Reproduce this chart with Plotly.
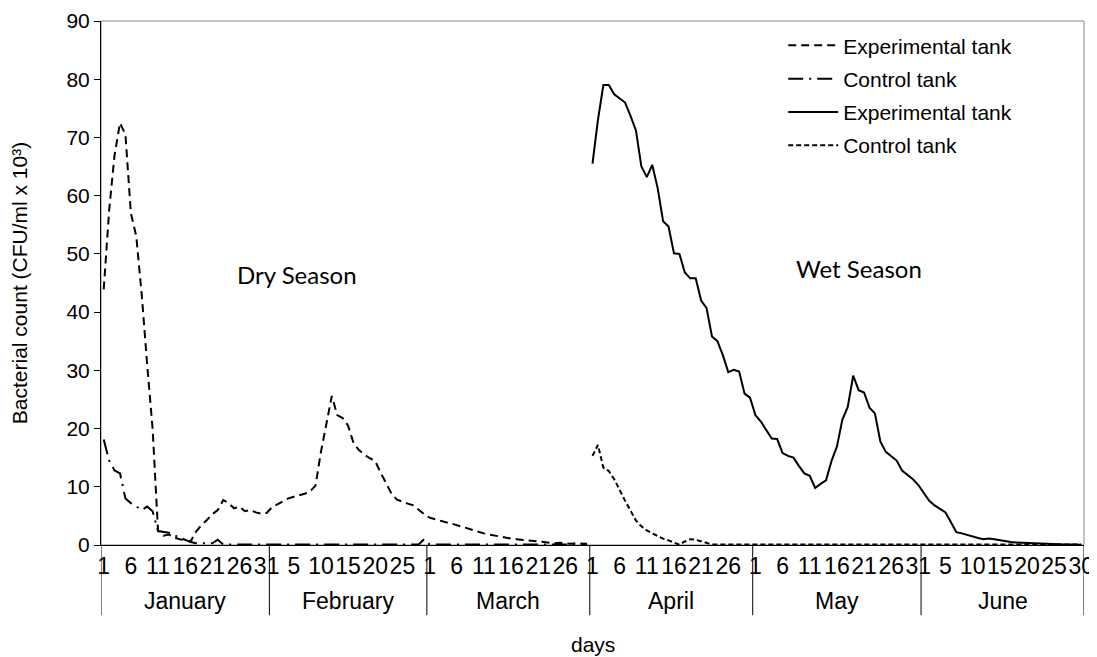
import plotly.graph_objects as go

# ---- categories ----
months = ["January", "February", "March", "April", "May", "June"]
month_days = [31, 29, 30, 30, 31, 30]
# every 5th category gets a label (same as the source chart)
tick_labels = ["1", "6", "11", "16", "21", "26", "31",
               "5", "10", "15", "20", "25",
               "1", "6", "11", "16", "21", "26",
               "1", "6", "11", "16", "21", "26",
               "1", "6", "11", "16", "21", "26", "31",
               "5", "10", "15", "20", "25", "30"]

# ---- Dry season (Jan - Mar) ----
dry_exp = [43.9, 57.5, 67.0, 72.5, 70.5, 57.0, 53.0, 43.0, 31.0, 20.0, 2.5, 1.6, 1.8, 1.3, 1.0, 0.8,
           0.6, 2.3, 3.4, 4.3, 5.3, 6.0, 7.7, 7.2, 6.3, 6.6, 5.8, 6.0, 5.6, 5.4, 5.5,
           6.5, 7.0, 7.6, 8.0, 8.3, 8.5, 8.8, 9.2, 10.2, 16.0, 21.0, 25.6, 22.3, 21.8, 20.5,
           17.5, 16.3, 15.5, 14.9, 14.4, 12.4, 10.6, 8.8, 7.8, 7.4, 7.1, 6.8, 6.0, 5.3,
           4.7, 4.4, 4.1, 3.9, 3.7, 3.4, 3.2, 2.9, 2.5, 2.2, 2.0, 1.8, 1.6, 1.4, 1.3,
           1.1, 1.0, 0.9, 0.7, 0.6, 0.5, 0.4, 0.4, 0.3, 0.4, 0.3, 0.2, 0.3, 0.2, 0.2]
dry_ctrl = [18.1, 14.5, 12.8, 12.3, 8.0, 7.2, 6.6, 6.0, 6.6, 5.8, 2.4, 2.3, 2.1, 1.7, 1.3, 0.9,
            0.5, 0.3, 0.3, 0.2, 0.3, 0.9, 0.1, 0.1, 0.1, 0.1, 0.1, 0.1, 0.1, 0.1, 0.1,
            0.1, 0.1, 0.1, 0.1, 0.1, 0.1, 0.1, 0.1, 0.1, 0.1, 0.1, 0.1, 0.1, 0.1, 0.1,
            0.1, 0.1, 0.1, 0.1, 0.1, 0.1, 0.1, 0.1, 0.1, 0.1, 0.1, 0.1, 0.1, 1.0,
            0.1, 0.1, 0.1, 0.1, 0.1, 0.1, 0.1, 0.1, 0.1, 0.1, 0.1, 0.1, 0.1, 0.1, 0.1,
            0.1, 0.1, 0.1, 0.1, 0.1, 0.1, 0.1, 0.1, 0.1, 0.1, 0.1, 0.1, 0.1, 0.1, 0.1]

# ---- Wet season (Apr - Jun) ----
wet_exp = [65.5, 73.0, 79.0, 79.0, 77.4, 76.7, 76.0, 73.7, 71.2, 65.0, 63.2, 65.3, 61.3, 55.6, 54.7,
           50.1, 50.0, 46.8, 45.8, 45.8, 42.0, 40.7, 35.8, 35.0, 32.6, 29.7, 30.1, 29.8, 26.0, 25.3,
           22.3, 21.2, 19.8, 18.3, 18.2, 15.8, 15.3, 15.0, 13.6, 12.3, 11.9, 9.8, 10.5, 11.1, 14.4,
           16.9, 21.5, 23.7, 29.1, 26.6, 26.2, 23.6, 22.6, 17.8, 16.0, 15.3, 14.5, 12.8, 12.0, 11.3, 10.3,
           9.0, 7.6, 6.8, 6.2, 5.6, 3.9, 2.2, 2.0, 1.7, 1.5, 1.2, 1.0, 1.1, 1.0, 0.8,
           0.6, 0.5, 0.45, 0.4, 0.35, 0.3, 0.3, 0.25, 0.2, 0.2, 0.15, 0.1, 0.1, 0.1, 0.05]
wet_ctrl = [15.3, 17.2, 13.3, 12.7, 11.3, 9.3, 7.6, 5.9, 4.2, 3.2, 2.5, 2.0, 1.5, 1.1, 0.8,
            0.4, 0.05, 0.6, 1.0, 0.9, 0.6, 0.3, 0.1, 0.1, 0.1, 0.1, 0.1, 0.1, 0.1, 0.1,
            0.1, 0.1, 0.1, 0.1, 0.1, 0.1, 0.1, 0.1, 0.1, 0.1, 0.1, 0.1, 0.1, 0.1, 0.1, 0.1,
            0.1, 0.1, 0.1, 0.1, 0.1, 0.1, 0.1, 0.1, 0.1, 0.1, 0.1, 0.1, 0.1, 0.1, 0.1,
            0.1, 0.1, 0.1, 0.1, 0.1, 0.1, 0.1, 0.1, 0.1, 0.1, 0.1, 0.1, 0.1, 0.1, 0.1,
            0.1, 0.1, 0.1, 0.1, 0.1, 0.1, 0.1, 0.1, 0.1, 0.1, 0.1, 0.1, 0.1, 0.1, 0.1]

# category positions (one per day)
n_dry = sum(month_days[:3])
n_all = sum(month_days)
x_dry = list(range(1, n_dry + 1))
x_wet = list(range(n_dry + 1, n_all + 1))
tick_pos = list(range(1, n_all + 1, 5))

# month boundaries / centres
bounds = [0.5]
for d in month_days:
    bounds.append(bounds[-1] + d)
centres = [(bounds[i] + bounds[i + 1]) / 2 for i in range(len(months))]

FONT = "Liberation Sans, Arial, sans-serif"

fig = go.Figure()
fig.add_trace(go.Scatter(x=x_dry, y=dry_exp, name="Experimental tank", mode="lines",
                         line=dict(color="black", width=2, dash="8px,5px"), legendgroup="a"))
fig.add_trace(go.Scatter(x=x_dry, y=dry_ctrl, name="Control tank", mode="lines",
                         line=dict(color="black", width=2, dash="15px,6px,2px,6px"), legendgroup="b"))
fig.add_trace(go.Scatter(x=x_wet, y=wet_exp, name="Experimental tank", mode="lines",
                         line=dict(color="black", width=2), legendgroup="c"))
fig.add_trace(go.Scatter(x=x_wet, y=wet_ctrl, name="Control tank", mode="lines",
                         line=dict(color="black", width=2, dash="5px,3px"), legendgroup="d"))

# plot-area frame
fig.add_shape(type="rect", xref="paper", yref="paper", x0=0, x1=1, y0=0, y1=1,
              line=dict(color="#878787", width=1), layer="below")
# month separators below the axis
for b in bounds:
    fig.add_shape(type="line", xref="x", yref="paper", x0=b, x1=b, y0=0, y1=-0.134,
                  line=dict(color="black", width=1))
for m, c in zip(months, centres):
    fig.add_annotation(x=c, y=-0.106, xref="x", yref="paper", text=m, showarrow=False,
                       font=dict(size=23, color="black", family=FONT), yanchor="middle")

fig.add_annotation(x=0.5, y=-0.19, xref="paper", yref="paper", text="days", showarrow=False,
                   font=dict(size=21, color="black", family=FONT), yanchor="middle")
fig.add_annotation(x=36.5, y=46.4, text="Dry Season", showarrow=False,
                   font=dict(size=24, color="black", family="Lato, sans-serif"))
fig.add_annotation(x=140, y=47.5, text="Wet Season", showarrow=False,
                   font=dict(size=24, color="black", family="Lato, sans-serif"))

# page body has an 8px margin, so the figure is drawn 8px smaller
fig.update_layout(
    width=1089, height=649,
    margin=dict(l=93, r=13, t=13, b=112),
    paper_bgcolor="white", plot_bgcolor="white",
    font=dict(family=FONT, color="black", size=21),
    showlegend=True,
    legend=dict(x=0.694, y=0.992, xanchor="left", yanchor="top", bgcolor="rgba(0,0,0,0)",
                font=dict(size=21, family=FONT), itemwidth=50, tracegroupgap=3),
    xaxis=dict(range=[0.5, n_all + 0.5], tickvals=tick_pos, ticktext=tick_labels,
               tickangle=0, ticklabeloverflow="allow",
               showline=True, linecolor="black", linewidth=1, ticks="", automargin=False,
               showgrid=False, zeroline=False, tickfont=dict(size=23)),
    yaxis=dict(range=[0, 90], dtick=10, showline=True, linecolor="black", linewidth=1,
               ticks="outside", ticklen=6, tickcolor="black", showgrid=False, zeroline=False,
               tickfont=dict(size=21), automargin=False, ticklabeloverflow="allow",
               title=dict(text="Bacterial count (CFU/ml x 10³)", font=dict(size=21), standoff=33)),
)

fig.write_html("out.html")
